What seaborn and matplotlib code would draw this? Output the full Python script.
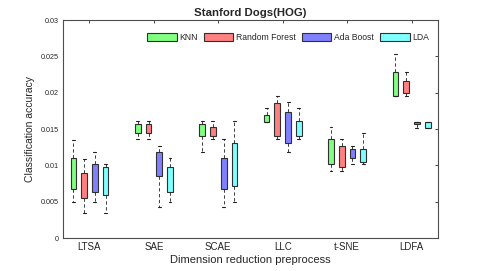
"""Stanford Dogs (HOG) classification accuracy box plots."""

import matplotlib
matplotlib.use("Agg")
import matplotlib.pyplot as plt
from matplotlib.patches import Patch
import pandas as pd
import seaborn as sns

METHODS = ["LTSA", "SAE", "SCAE", "LLC", "t-SNE", "LDFA"]
CLASSIFIERS = ["KNN", "Random Forest", "Ada Boost", "LDA"]
COLORS = ["#80FF80", "#FF8080", "#8080FF", "#80FFFF"]

# per classifier: lower whisker, box bottom, box top, upper whisker (one per method)
knn_low = [0.0050, 0.0136, 0.0118, 0.0160, 0.0093, 0.0195]
knn_q1 = [0.0068, 0.0144, 0.0140, 0.0160, 0.0102, 0.0195]
knn_q3 = [0.0110, 0.0157, 0.0157, 0.0169, 0.0136, 0.0229]
knn_high = [0.0135, 0.0161, 0.0161, 0.0179, 0.0153, 0.0254]

rf_low = [0.0034, 0.0136, 0.0136, 0.0136, 0.0093, 0.0195]
rf_q1 = [0.0055, 0.0144, 0.0140, 0.0140, 0.0098, 0.0199]
rf_q3 = [0.0089, 0.0157, 0.0153, 0.0186, 0.0127, 0.0216]
rf_high = [0.0109, 0.0161, 0.0161, 0.0195, 0.0136, 0.0229]

ada_low = [0.0050, 0.0043, 0.0043, 0.0118, 0.0102, 0.0152]
ada_q1 = [0.0063, 0.0085, 0.0068, 0.0131, 0.0110, 0.0157]
ada_q3 = [0.0102, 0.0118, 0.0110, 0.0174, 0.0123, 0.0160]
ada_high = [0.0118, 0.0127, 0.0136, 0.0187, 0.0127, 0.0160]

lda_low = [0.0034, 0.0050, 0.0050, 0.0136, 0.0102, 0.0152]
lda_q1 = [0.0059, 0.0063, 0.0072, 0.0140, 0.0105, 0.0152]
lda_q3 = [0.0098, 0.0098, 0.0131, 0.0161, 0.0123, 0.0160]
lda_high = [0.0102, 0.0110, 0.0161, 0.0179, 0.0144, 0.0160]

STATS = {
    "KNN": (knn_low, knn_q1, knn_q3, knn_high),
    "Random Forest": (rf_low, rf_q1, rf_q3, rf_high),
    "Ada Boost": (ada_low, ada_q1, ada_q3, ada_high),
    "LDA": (lda_low, lda_q1, lda_q3, lda_high),
}

rows = []
for clf, (low, q1, q3, high) in STATS.items():
    for i, method in enumerate(METHODS):
        # five points reproduce the whiskers and quartiles exactly (median hidden)
        for v in (low[i], q1[i], (q1[i] + q3[i]) / 2, q3[i], high[i]):
            rows.append({"method": method, "classifier": clf, "acc": v})
df = pd.DataFrame(rows)

sns.set_style("white")
plt.rcParams["font.family"] = ["Liberation Sans", "DejaVu Sans"]
ink = "#262626"

fig = plt.figure(figsize=(4.85, 2.71), dpi=100)
ax = fig.add_axes([0.130, 0.121, 0.773, 0.805])

sns.boxplot(
    data=df, x="method", y="acc", hue="classifier",
    order=METHODS, hue_order=CLASSIFIERS, palette=COLORS,
    width=0.667, gap=0.47, whis=(0, 100), saturation=1,
    linecolor="#303030", linewidth=0.8, fliersize=0, legend=False,
    medianprops={"visible": False},
    whiskerprops={"linestyle": (0, (4, 3)), "linewidth": 0.6, "color": "#202020"},
    capprops={"linewidth": 0.8, "color": "#202020"},
    capwidths=0.045,
    ax=ax,
)

ax.set_xlim(-0.41, 5.41)
ax.set_ylim(0, 0.03)
ax.set_yticks([0, 0.005, 0.01, 0.015, 0.02, 0.025, 0.03])
ax.set_yticklabels(["0", "0.005", "0.01", "0.015", "0.02", "0.025", "0.03"], fontsize=5.2)
ax.tick_params(axis="x", labelsize=7)
ax.tick_params(top=True, right=True, direction="in", length=2.5, width=0.6,
               colors=ink, pad=3)
for s in ax.spines.values():
    s.set_color("#4d4d4d")
    s.set_linewidth(0.8)

ax.set_xlabel("Dimension reduction preprocess", fontsize=8, color=ink, labelpad=2)
ax.set_ylabel("Classification accuracy", fontsize=7.5, color=ink, labelpad=4)
ax.set_title("Stanford Dogs(HOG)", fontsize=8.2, fontweight="bold", pad=3)

handles = [Patch(facecolor=c, edgecolor="#303030", linewidth=0.8, label=l)
           for c, l in zip(COLORS, CLASSIFIERS)]
ax.legend(handles=handles, ncol=4, frameon=False, fontsize=6.2,
          loc="center", bbox_to_anchor=(0.601, 0.919),
          handlelength=3.4, handleheight=1.0, handletextpad=0.35,
          columnspacing=0.7, borderpad=0.2)

fig.savefig("out.png", dpi=100)
